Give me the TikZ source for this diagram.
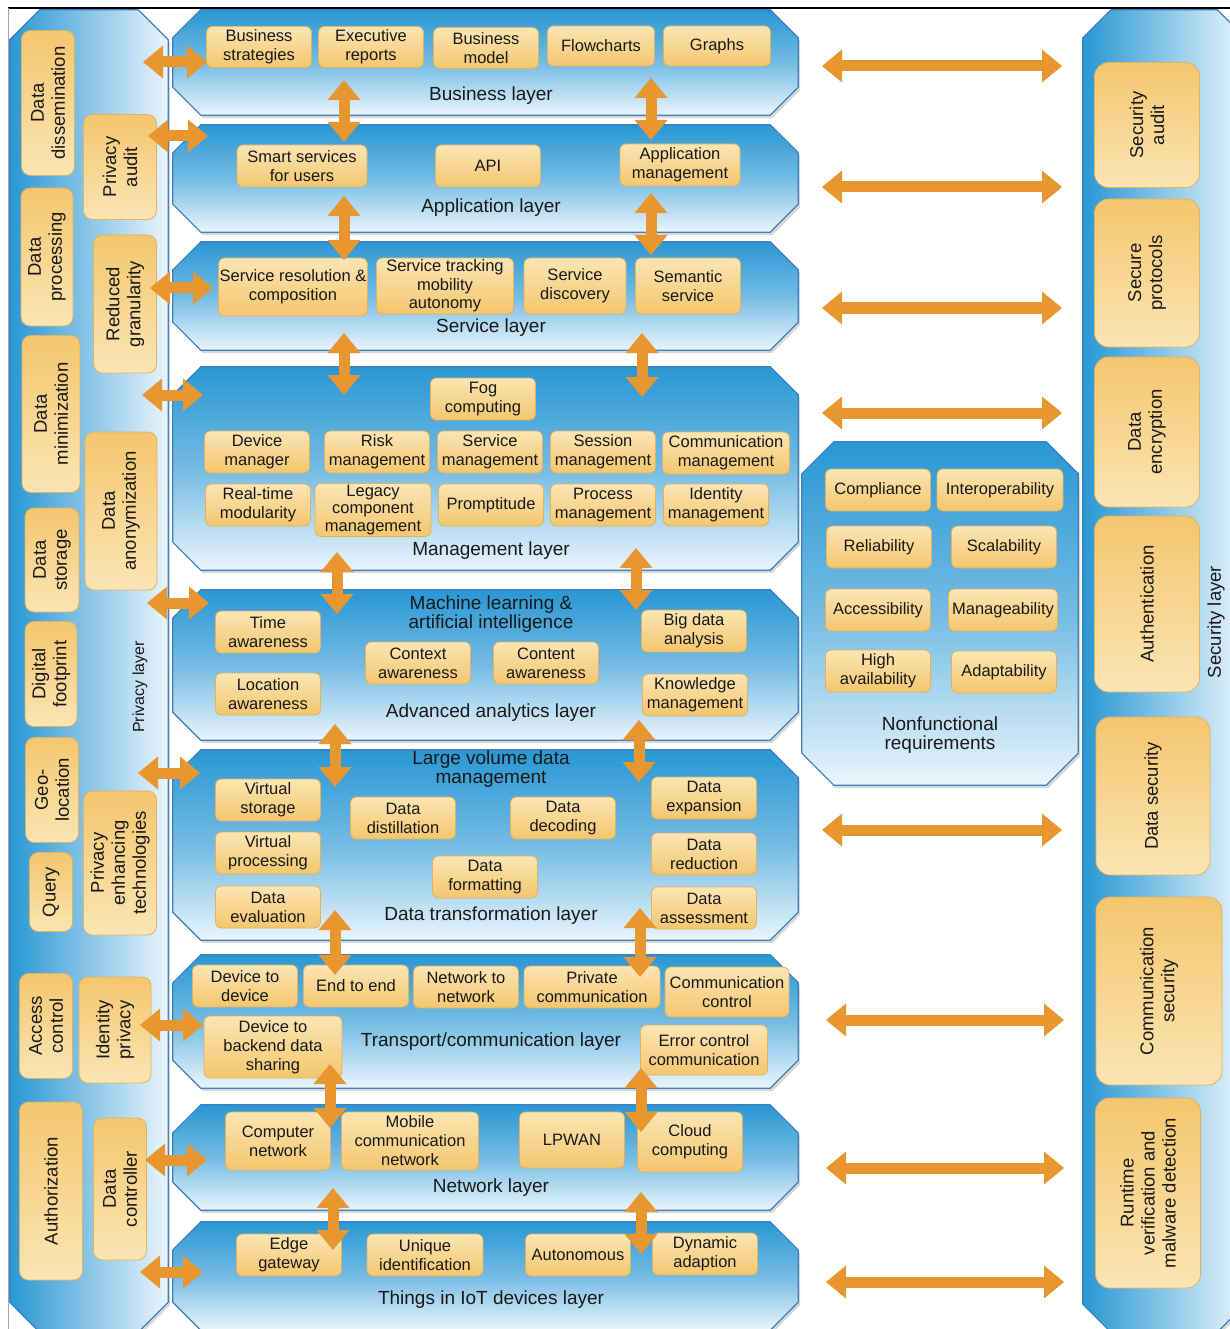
\documentclass[tikz,border=0pt]{standalone}
\usepackage{fontspec}
\setmainfont{Liberation Sans}
\usetikzlibrary{shadows,calc,arrows.meta}

\definecolor{laytop}{RGB}{41,151,212}
\definecolor{laybot}{RGB}{234,245,252}
\definecolor{laybdr}{RGB}{62,128,190}
\definecolor{boxlt}{RGB}{251,229,180}
\definecolor{boxdk}{RGB}{244,198,110}
\definecolor{boxbdr}{RGB}{224,178,98}
\definecolor{arrorange}{RGB}{232,150,48}
\definecolor{txt}{RGB}{25,25,25}

\newcommand{\boxfont}{\fontsize{16.5}{19}\selectfont}
\newcommand{\sidefont}{\fontsize{18.5}{21}\selectfont}
\newcommand{\layfont}{\fontsize{19}{19}\selectfont}

% chamfered outline round a named node: name, chamfer, style
\newcommand{\octo}[3]{%
  \path[#3] ([yshift=-#2]#1.north west) -- ([xshift=#2]#1.north west)
    -- ([xshift=-#2]#1.north east) -- ([yshift=-#2]#1.north east)
    -- ([yshift=#2]#1.south east) -- ([xshift=-#2]#1.south east)
    -- ([xshift=#2]#1.south west) -- ([yshift=#2]#1.south west) -- cycle;}

\begin{document}
\begin{tikzpicture}[x=1pt, y=-1pt,
    iotlayer/.style={rectangle, inner sep=0pt, minimum width=625pt},
    vshade/.style={draw=laybdr, line width=1.2pt, top color=laytop,
      bottom color=laybot, middle color=laytop!65!white,
      drop shadow={shadow xshift=2pt, shadow yshift=-3pt, fill=black!30}},
    hshade/.style={draw=laybdr, line width=1.2pt, left color=laytop,
      right color=laybot, middle color=laytop!55!white,
      drop shadow={shadow xshift=2pt, shadow yshift=-3pt, fill=black!30}},
    hbox/.style={rectangle, rounded corners=6pt, draw=boxbdr, line width=0.8pt,
      top color=boxlt, bottom color=boxdk, align=center, font=\boxfont,
      text=txt, inner sep=1pt, minimum width=105pt, minimum height=42pt},
    vbox/.style={hbox, rotate=90, rounded corners=9pt, top color=boxdk,
      bottom color=boxlt, font=\sidefont},
    secbox/.style={vbox, rounded corners=14pt, minimum height=105pt},
    laylabel/.style={font=\layfont, text=txt, align=center},
    dbl/.style={draw=arrorange, line width=11pt,
      {Triangle[width=33pt,length=20pt,line width=0pt]}-{Triangle[width=33pt,length=20pt,line width=0pt]}}
  ]

    \useasboundingbox (0,0) rectangle (1230,1329);
    \draw[line width=2pt] (8,8) -- (1230,8);
    \draw[black!35] (8,8) -- (8,1329);

    % Side columns
    \node[iotlayer, minimum width=158pt, minimum height=1322pt] (priv) at (89,671) {};
    \node[iotlayer, minimum width=162pt, minimum height=1322pt] (sec) at (1164,671) {};
    \node[iotlayer, minimum width=276pt, minimum height=343pt] (nfr) at (940,613.5) {};
    \octo{priv}{30pt}{hshade}
    \octo{sec}{28pt}{hshade}
    \octo{nfr}{32pt}{vshade}

    % Layers
    \node[iotlayer, minimum height=105pt] (bus) at (485.5,62.5) {};
    \node[iotlayer, minimum height=107pt] (app) at (485.5,178.5) {};
    \node[iotlayer, minimum height=108pt] (srv) at (485.5,296) {};
    \node[iotlayer, minimum height=203pt] (mgmt) at (485.5,468.5) {};
    \node[iotlayer, minimum height=150pt] (ana) at (485.5,665) {};
    \node[iotlayer, minimum height=190pt] (trf) at (485.5,845) {};
    \node[iotlayer, minimum height=133pt] (trp) at (485.5,1021.5) {};
    \node[iotlayer, minimum height=105pt] (net) at (485.5,1157.5) {};
    \node[iotlayer, minimum height=108pt] (thg) at (485.5,1276) {};
    \octo{bus}{28pt}{vshade}
    \octo{app}{28pt}{vshade}
    \octo{srv}{28pt}{vshade}
    \octo{mgmt}{28pt}{vshade}
    \octo{ana}{28pt}{vshade}
    \octo{trf}{28pt}{vshade}
    \octo{trp}{28pt}{vshade}
    \octo{net}{28pt}{vshade}
    \octo{thg}{28pt}{vshade}

    % Business layer
    \node[hbox, minimum height=41pt] (bs) at (259,47) {Business\\strategies};
    \node[hbox, minimum height=41pt] (er) at (371,47) {Executive\\reports};
    \node[hbox, minimum height=41pt] (bm) at (486,48) {Business\\model};
    \node[hbox, minimum width=107pt, minimum height=40pt] (fc) at (601,46) {Flowcharts};
    \node[hbox, minimum width=107pt, minimum height=40pt] (gr) at (717,46) {Graphs};
    \node[laylabel] (busl) at (491,96) {Business layer};

    % Application layer
    \node[hbox, minimum width=130pt] (ss) at (302,166) {Smart services\\for users};
    \node[hbox] (api) at (488,166) {API};
    \node[hbox, minimum width=120pt] (am) at (680,165) {Application\\management};
    \node[laylabel] (appl) at (491,208) {Application layer};

    % Service layer
    \node[hbox, minimum width=148pt, minimum height=58pt] (sr) at (293,287) {Service resolution \&\\composition};
    \node[hbox, minimum width=137pt, minimum height=56pt, font=\fontsize{16.5}{18.5}\selectfont] (st) at (445,286) {Service tracking\\mobility\\autonomy};
    \node[hbox, minimum width=102pt, minimum height=56pt] (sd) at (575,286) {Service\\discovery};
    \node[hbox, minimum height=56pt] (sem) at (688,286) {Semantic\\service};
    \node[laylabel] (srvl) at (491,328) {Service layer};

    % Management layer
    \node[hbox] (fog) at (483,399) {Fog\\computing};
    \node[hbox] (dm) at (257,452) {Device\\manager};
    \node[hbox] (rm) at (377,452) {Risk\\management};
    \node[hbox] (svm) at (490,452) {Service\\management};
    \node[hbox] (sm) at (603,452) {Session\\management};
    \node[hbox, minimum width=127pt] (cm) at (726,453) {Communication\\management};
    \node[hbox] (rt) at (258,505) {Real-time\\modularity};
    \node[hbox, minimum width=116pt, minimum height=53pt, font=\fontsize{16.5}{17.5}\selectfont] (lc) at (373,510) {Legacy\\component\\management};
    \node[hbox] (pr) at (491,505) {Promptitude};
    \node[hbox] (pm) at (603,505) {Process\\management};
    \node[hbox] (im) at (716,505) {Identity\\management};
    \node[laylabel] (mgmtl) at (491,551) {Management layer};

    % Advanced analytics layer
    \node[laylabel, font=\fontsize{19}{18.5}\selectfont] (mll) at (491,614) {Machine learning \&\\artificial intelligence};
    \node[hbox] (ta) at (268,632) {Time\\awareness};
    \node[hbox] (bd) at (694,631) {Big data\\analysis};
    \node[hbox] (ca) at (418,663) {Context\\awareness};
    \node[hbox] (cna) at (546,663) {Content\\awareness};
    \node[hbox] (la) at (268,694) {Location\\awareness};
    \node[hbox] (km) at (695,695) {Knowledge\\management};
    \node[laylabel] (anal) at (491,713) {Advanced analytics layer};

    % Data transformation layer
    \node[laylabel, font=\fontsize{19}{18.5}\selectfont] (lvl) at (491,769) {Large volume data\\management};
    \node[hbox] (vs) at (268,800) {Virtual\\storage};
    \node[hbox] (de) at (704,798) {Data\\expansion};
    \node[hbox] (dd) at (403,818) {Data\\distillation};
    \node[hbox] (dc) at (563,818) {Data\\decoding};
    \node[hbox] (vp) at (268,853) {Virtual\\processing};
    \node[hbox] (dr) at (704,854) {Data\\reduction};
    \node[hbox] (df) at (485,877) {Data\\formatting};
    \node[hbox] (dev) at (268,907) {Data\\evaluation};
    \node[hbox] (da) at (704,908) {Data\\assessment};
    \node[laylabel] (trfl) at (491,916) {Data transformation layer};

    % Transport/communication layer
    \node[hbox] (d2d) at (245,986) {Device to\\device};
    \node[hbox] (e2e) at (356,986) {End to end};
    \node[hbox] (n2n) at (466,987) {Network to\\network};
    \node[hbox, minimum width=136pt] (pc) at (592,987) {Private\\communication};
    \node[hbox, minimum width=124pt, minimum height=50pt] (cc) at (727,992) {Communication\\control};
    \node[hbox, minimum width=138pt, minimum height=62pt] (d2b) at (273,1047) {Device to\\backend data\\sharing};
    \node[hbox, minimum width=127pt, minimum height=50pt] (ec) at (704,1050) {Error control\\communication};
    \node[laylabel] (trpl) at (491,1042) {Transport/communication layer};

    % Network layer
    \node[hbox, minimum height=58pt] (cn) at (278,1141) {Computer\\network};
    \node[hbox, minimum width=137pt, minimum height=58pt] (mc) at (410,1141) {Mobile\\communication\\network};
    \node[hbox, minimum height=56pt] (lp) at (572,1140) {LPWAN};
    \node[hbox, minimum height=60pt] (cl) at (690,1142) {Cloud\\computing};
    \node[laylabel] (netl) at (491,1188) {Network layer};

    % Things layer
    \node[hbox] (eg) at (289,1255) {Edge\\gateway};
    \node[hbox, minimum width=116pt] (ui) at (425,1255) {Unique\\identification};
    \node[hbox] (au) at (578,1255) {Autonomous};
    \node[hbox] (dy) at (705,1254) {Dynamic\\adaption};
    \node[laylabel] (thgl) at (491,1300) {Things in IoT devices layer};

    % Nonfunctional requirements
    \node[hbox] (cp) at (878,490) {Compliance};
    \node[hbox, minimum width=126pt] (io) at (1000,490) {Interoperability};
    \node[hbox] (rl) at (879,547) {Reliability};
    \node[hbox] (sc) at (1004,547) {Scalability};
    \node[hbox] (ac) at (878,610) {Accessibility};
    \node[hbox, minimum width=109pt] (mg) at (1003,610) {Manageability};
    \node[hbox] (ha) at (878,671) {High\\availability};
    \node[hbox] (ad) at (1004,672) {Adaptability};
    \node[laylabel] (nfrl) at (940,735) {Nonfunctional\\requirements};

    % Privacy layer
    \node[vbox, minimum width=145pt, minimum height=53pt] (dis) at (48,103) {Data\\dissemination};
    \node[vbox, minimum width=105pt, minimum height=73pt] (pa) at (120,167) {Privacy\\audit};
    \node[vbox, minimum width=138pt, minimum height=52pt] (dp) at (47,257) {Data\\processing};
    \node[vbox, minimum width=138pt, minimum height=63pt] (rg) at (125,304) {Reduced\\granularity};
    \node[vbox, minimum width=157pt, minimum height=58pt] (dmin) at (51,414) {Data\\minimization};
    \node[vbox, minimum width=158pt, minimum height=72pt] (dan) at (121,511) {Data\\anonymization};
    \node[vbox, minimum width=104pt, minimum height=54pt] (dst) at (52,560) {Data\\storage};
    \node[vbox, minimum width=105pt, minimum height=52pt] (dfp) at (51,674) {Digital\\footprint};
    \node[vbox, minimum width=105pt, minimum height=53pt] (geo) at (52,790) {Geo-\\location};
    \node[vbox, minimum width=79pt, minimum height=43pt] (qry) at (51,892) {Query};
    \node[vbox, minimum width=144pt, minimum height=73pt] (pet) at (120,863) {Privacy\\enhancing\\technologies};
    \node[vbox, minimum width=105pt, minimum height=53pt] (acc) at (46,1026) {Access\\control};
    \node[vbox, minimum width=106pt, minimum height=72pt] (idp) at (115,1030) {Identity\\privacy};
    \node[vbox, minimum width=178pt, minimum height=63pt] (aut) at (51,1191) {Authorization};
    \node[vbox, minimum width=142pt, minimum height=53pt] (dco) at (120,1189) {Data\\controller};
    \node[rotate=90, font=\fontsize{16}{18}\selectfont, text=txt] (privl) at (140,687) {Privacy layer};

    % Security layer
    \node[secbox, minimum width=125pt] (sa) at (1147,125) {Security\\audit};
    \node[secbox, minimum width=148pt] (sp) at (1147,273) {Secure\\protocols};
    \node[secbox, minimum width=150pt] (den) at (1147,432) {Data\\encryption};
    \node[secbox, minimum width=176pt] (ath) at (1147,604) {Authentication};
    \node[secbox, minimum width=158pt, minimum height=114pt] (dsec) at (1153,796) {Data security};
    \node[secbox, minimum width=188pt, minimum height=126pt] (csec) at (1159,991) {Communication\\security};
    \node[secbox, minimum width=190pt] (rv) at (1148,1193) {Runtime\\verification and\\malware detection};
    \node[rotate=90, font=\sidefont, text=txt] (secl) at (1216,622) {Security layer};

    % Arrows between layers
    \draw[dbl] ($(bus)+(-141.5,17.5)$) -- ($(app)+(-141.5,-36.5)$);
    \draw[dbl] ($(bus)+(165.5,15.5)$) -- ($(app)+(165.5,-38.5)$);
    \draw[dbl] ($(app)+(-141.5,17.5)$) -- ($(srv)+(-141.5,-36)$);
    \draw[dbl] ($(app)+(165.5,14.5)$) -- ($(srv)+(165.5,-41)$);
    \draw[dbl] ($(srv)+(-141.5,37)$) -- ($(mgmt)+(-141.5,-73.5)$);
    \draw[dbl] ($(srv)+(156.5,37)$) -- ($(mgmt)+(156.5,-71.5)$);
    \draw[dbl] ($(mgmt)+(-148.5,83.5)$) -- ($(ana)+(-148.5,-51)$);
    \draw[dbl] ($(mgmt)+(150.5,79.5)$) -- ($(ana)+(150.5,-55)$);
    \draw[dbl] ($(ana)+(-150.5,59)$) -- ($(trf)+(-150.5,-58)$);
    \draw[dbl] ($(ana)+(153.5,55)$) -- ($(trf)+(153.5,-63)$);
    \draw[dbl] ($(trf)+(-150.5,65)$) -- ($(trp)+(-150.5,-46.5)$);
    \draw[dbl] ($(trf)+(154.5,63)$) -- ($(trp)+(154.5,-44.5)$);
    \draw[dbl] ($(trp)+(-155.5,42.5)$) -- ($(net)+(-155.5,-29.5)$);
    \draw[dbl] ($(trp)+(155.5,46.5)$) -- ($(net)+(155.5,-25.5)$);
    \draw[dbl] ($(net)+(-152.5,30.5)$) -- ($(thg)+(-152.5,-26)$);
    \draw[dbl] ($(net)+(155.5,34.5)$) -- ($(thg)+(155.5,-22)$);

    % Arrows to the security layer
    \draw[dbl] ($(bus)+(336.5,3.5)$) -- ($(bus -| sec)+(-102,3.5)$);
    \draw[dbl] ($(app)+(336.5,8.5)$) -- ($(app -| sec)+(-102,8.5)$);
    \draw[dbl] ($(srv)+(336.5,12)$) -- ($(srv -| sec)+(-102,12)$);
    \draw[dbl] ($(mgmt)+(336.5,-55.5)$) -- ($(mgmt -| sec)+(-102,-55.5)$);
    \draw[dbl] ($(trf)+(336.5,-15)$) -- ($(trf -| sec)+(-102,-15)$);
    \draw[dbl] ($(trp)+(340.5,-1.5)$) -- ($(trp -| sec)+(-100,-1.5)$);
    \draw[dbl] ($(net)+(340.5,10.5)$) -- ($(net -| sec)+(-100,10.5)$);
    \draw[dbl] ($(thg)+(340.5,6)$) -- ($(thg -| sec)+(-100,6)$);

    % Arrows from the privacy layer
    \draw[dbl] ($(priv |- bus)+(54,-0.5)$) -- ($(bus)+(-278.5,-0.5)$);
    \draw[dbl] ($(priv |- app)+(59,-42.5)$) -- ($(app)+(-277.5,-42.5)$);
    \draw[dbl] ($(priv |- srv)+(61,-8)$) -- ($(srv)+(-272.5,-8)$);
    \draw[dbl] ($(priv |- mgmt)+(53,-73.5)$) -- ($(mgmt)+(-282.5,-73.5)$);
    \draw[dbl] ($(priv |- ana)+(58,-62)$) -- ($(ana)+(-276.5,-62)$);
    \draw[dbl] ($(priv |- trf)+(49,-72)$) -- ($(trf)+(-285.5,-72)$);
    \draw[dbl] ($(priv |- trp)+(51,3.5)$) -- ($(trp)+(-282.5,3.5)$);
    \draw[dbl] ($(priv |- net)+(56,2.5)$) -- ($(net)+(-278.5,2.5)$);
    \draw[dbl] ($(priv |- thg)+(51,-4)$) -- ($(thg)+(-282.5,-4)$);

\end{tikzpicture}
\end{document}
